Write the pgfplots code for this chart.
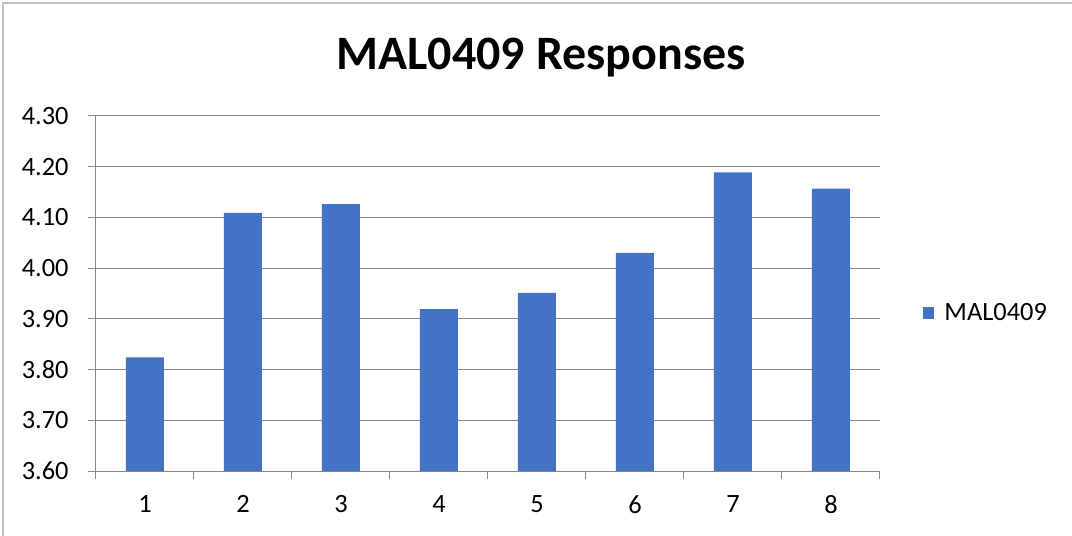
\documentclass[border=0pt]{standalone}
\usepackage{pgfplots}
\pgfplotsset{compat=1.18}
\usepackage{fontspec}
\setmainfont{Carlito}
\definecolor{barblue}{HTML}{4472C4}
\definecolor{gridgray}{HTML}{878787}
\begin{document}
\begin{tikzpicture}
\path[use as bounding box] (0pt,0pt) rectangle (804pt,402pt);
\draw[gray!50, line width=1pt] (2.25pt,0pt) -- (2.25pt,399.75pt) -- (804pt,399.75pt);
\node[font=\fontsize{36}{40}\selectfont\bfseries] at (405.75pt,358.5pt) {MAL0409 Responses};
\begin{axis}[
  at={(72pt,48.75pt)}, anchor=south west, scale only axis,
  width=588pt, height=266.25pt,
  ybar, bar width=28.5pt,
  xmin=0.5, xmax=8.5,
  ymin=3.6, ymax=4.3,
  xtick={1,2,3,4,5,6,7,8},
  minor xtick={0.5,1.5,2.5,3.5,4.5,5.5,6.5,7.5,8.5},
  ytick={3.6,3.7,3.8,3.9,4.0,4.1,4.2,4.3},
  /pgf/number format/assume math mode=true,
  ticklabel style={font=\fontsize{19.8}{22}\selectfont, text=black},
  yticklabel style={xshift=-11pt, /pgf/number format/.cd, fixed, fixed zerofill, precision=2},
  xticklabel style={yshift=-9pt},
  axis lines*=left,
  axis line style={gridgray, line width=0.75pt},
  ymajorgrids, grid style={gridgray, line width=0.75pt},
  tick align=outside,
  major tick length=6pt, minor tick length=6pt,
  major x tick style={draw=none},
  minor x tick style={gridgray, line width=0.75pt},
  y tick style={gridgray, line width=0.75pt},
  legend style={at={(1.054,0.445)}, anchor=west, draw=none, fill=none,
    font=\fontsize{19.8}{22}\selectfont, inner sep=0pt},
  legend image code/.code={\fill[barblue] (0pt,-4.2pt) rectangle (8.4pt,4.2pt); \path (14.4pt,0pt);},
]
\addplot[fill=barblue, draw=none] coordinates {
 (1,3.824) (2,4.109) (3,4.126) (4,3.919) (5,3.951) (6,4.030) (7,4.189) (8,4.157)
};
\addlegendentry{MAL0409}
\end{axis}
\end{tikzpicture}
\end{document}
